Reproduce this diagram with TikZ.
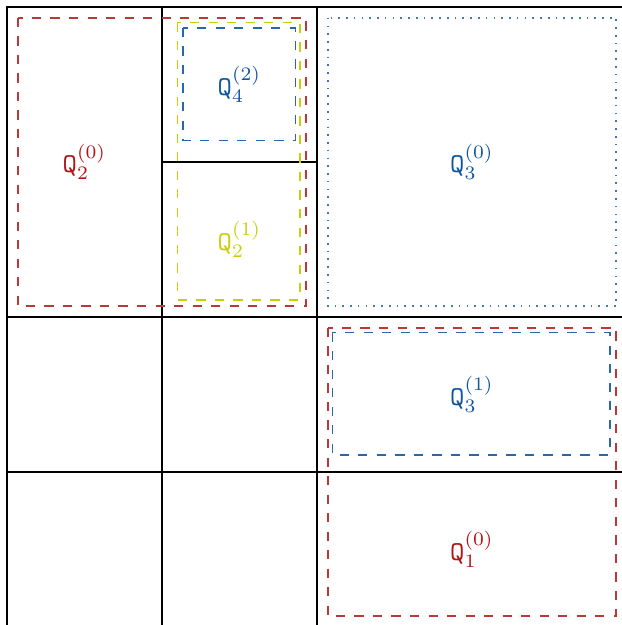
\documentclass[tikz,border=0pt]{standalone}
\usepackage{amsmath}
\usepackage{xcolor}
\usepackage{tikz}
\usetikzlibrary{positioning}

\definecolor{qred}{RGB}{176,20,20}
\definecolor{qblue}{RGB}{16,86,158}
\definecolor{qyellow}{RGB}{200,206,10}

\begin{document}
\begin{tikzpicture}[grid/.style={line width=1.05pt}, region/.style={line width=0.55pt, dash pattern=on 3.4pt off 3.4pt}, dots/.style={line width=0.65pt, dash pattern=on 0.6pt off 2.25pt}, lbl/.style={inner sep=1pt}]

\useasboundingbox (-0.09,0.09) rectangle (7.935,-7.974);
\clip (-0.09,0.09) rectangle (7.935,-7.974);

% Grid
\draw[grid] (0,-8.2) -- (0,0) -- (8.2,0);
\draw[grid] (2,0) -- (2,-8.2);
\draw[grid] (4,0) -- (4,-8.2);
\draw[grid] (2,-2) -- (4,-2);
\draw[grid] (0,-4) -- (8.2,-4);
\draw[grid] (0,-6) -- (8.2,-6);

% Regions
\draw[region, qred!85] (0.14,-0.14) rectangle (3.86,-3.86);
\draw[region, qyellow] (2.2,-0.2) rectangle (3.78,-3.78);
\draw[region, qblue!90] (2.27,-0.27) rectangle (3.72,-1.72);
\draw[dots, qblue!80] (4.14,-0.14) rectangle (7.86,-3.86);
\draw[region, qred!85] (4.14,-4.14) rectangle (7.86,-7.86);
\draw[region, qblue!90] (4.2,-4.2) rectangle (7.78,-5.78);

% Labels
\node[lbl, text=qred] (q20) at (1,-2) {$\mathtt{Q}_2^{(0)}$};
\node[lbl, text=qblue] (q42) at (3,-1) {$\mathtt{Q}_4^{(2)}$};
\node[lbl, text=qyellow] (q21) at (3,-3) {$\mathtt{Q}_2^{(1)}$};
\node[lbl, text=qblue] (q30) at (6,-2) {$\mathtt{Q}_3^{(0)}$};
\node[lbl, text=qblue] (q31) at (6,-5) {$\mathtt{Q}_3^{(1)}$};
\node[lbl, text=qred] (q10) at (6,-7) {$\mathtt{Q}_1^{(0)}$};

\end{tikzpicture}
\end{document}
